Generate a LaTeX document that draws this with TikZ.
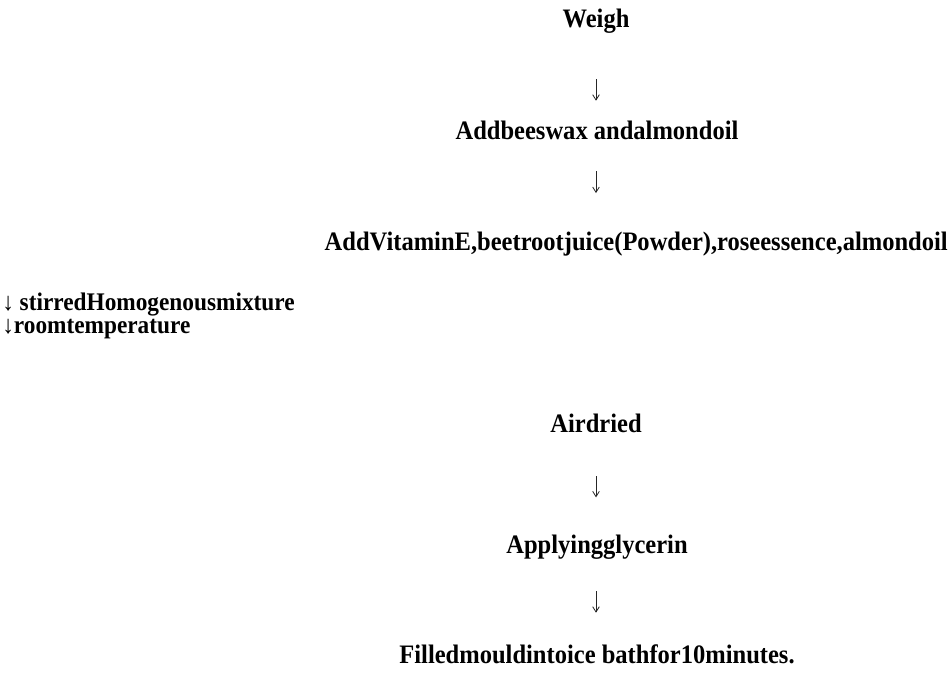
\documentclass[tikz,border=0pt]{standalone}
\usepackage{fontspec}
\setmainfont{Liberation Serif}[FakeStretch=0.92]
\usetikzlibrary{arrows.meta}
\begin{document}
\begin{tikzpicture}[x=0.75pt,y=-0.75pt]
        \tikzstyle{stage}=[font=\fontsize{20}{24}\selectfont\bfseries,inner sep=0pt,text height=14pt,text depth=4pt]
        \tikzstyle{note}=[stage,font=\fontsize{19}{23}\selectfont\bfseries,text height=11pt,text depth=3pt,anchor=west]
        \tikzstyle{flow}=[draw=black!85,line width=0.6pt,-{Straight Barb[length=4pt,width=5pt]}]
        \useasboundingbox (0,0) rectangle (952,678);
        % main steps
        \node [stage] (weigh) at (596,21) {Weigh};
        \node [stage] (wax) at (597,133) {Addbeeswax andalmondoil};
        \node [stage,anchor=east] (vitamin) at (948,244) {AddVitaminE,beetrootjuice(Powder),roseessence,almondoil};
        \node [note] (stir) at (2,305) {{\mdseries↓} stirredHomogenousmixture};
        \node [note] (room) at (2,328) {{\mdseries↓}roomtemperature};
        \node [stage] (dry) at (596,426) {Airdried};
        \node [stage] (glyc) at (597,547) {Applyingglycerin};
        \node [stage] (mould) at (597,657) {Filledmouldintoice bathfor10minutes.};
        % arrows
        \draw[flow,shorten <=34.5pt,shorten >=15pt] (weigh.south) -- (weigh.south |- wax.north);
        \draw[flow,shorten <=19.5pt,shorten >=29pt] (weigh.south |- wax.south) -- (weigh.south |- vitamin.north);
        \draw[flow,shorten <=28.5pt,shorten >=28pt] (dry.south) -- (dry.south |- glyc.north);
        \draw[flow,shorten <=24pt,shorten >=24pt] (dry.south |- glyc.south) -- (dry.south |- mould.north);
\end{tikzpicture}
\end{document}
